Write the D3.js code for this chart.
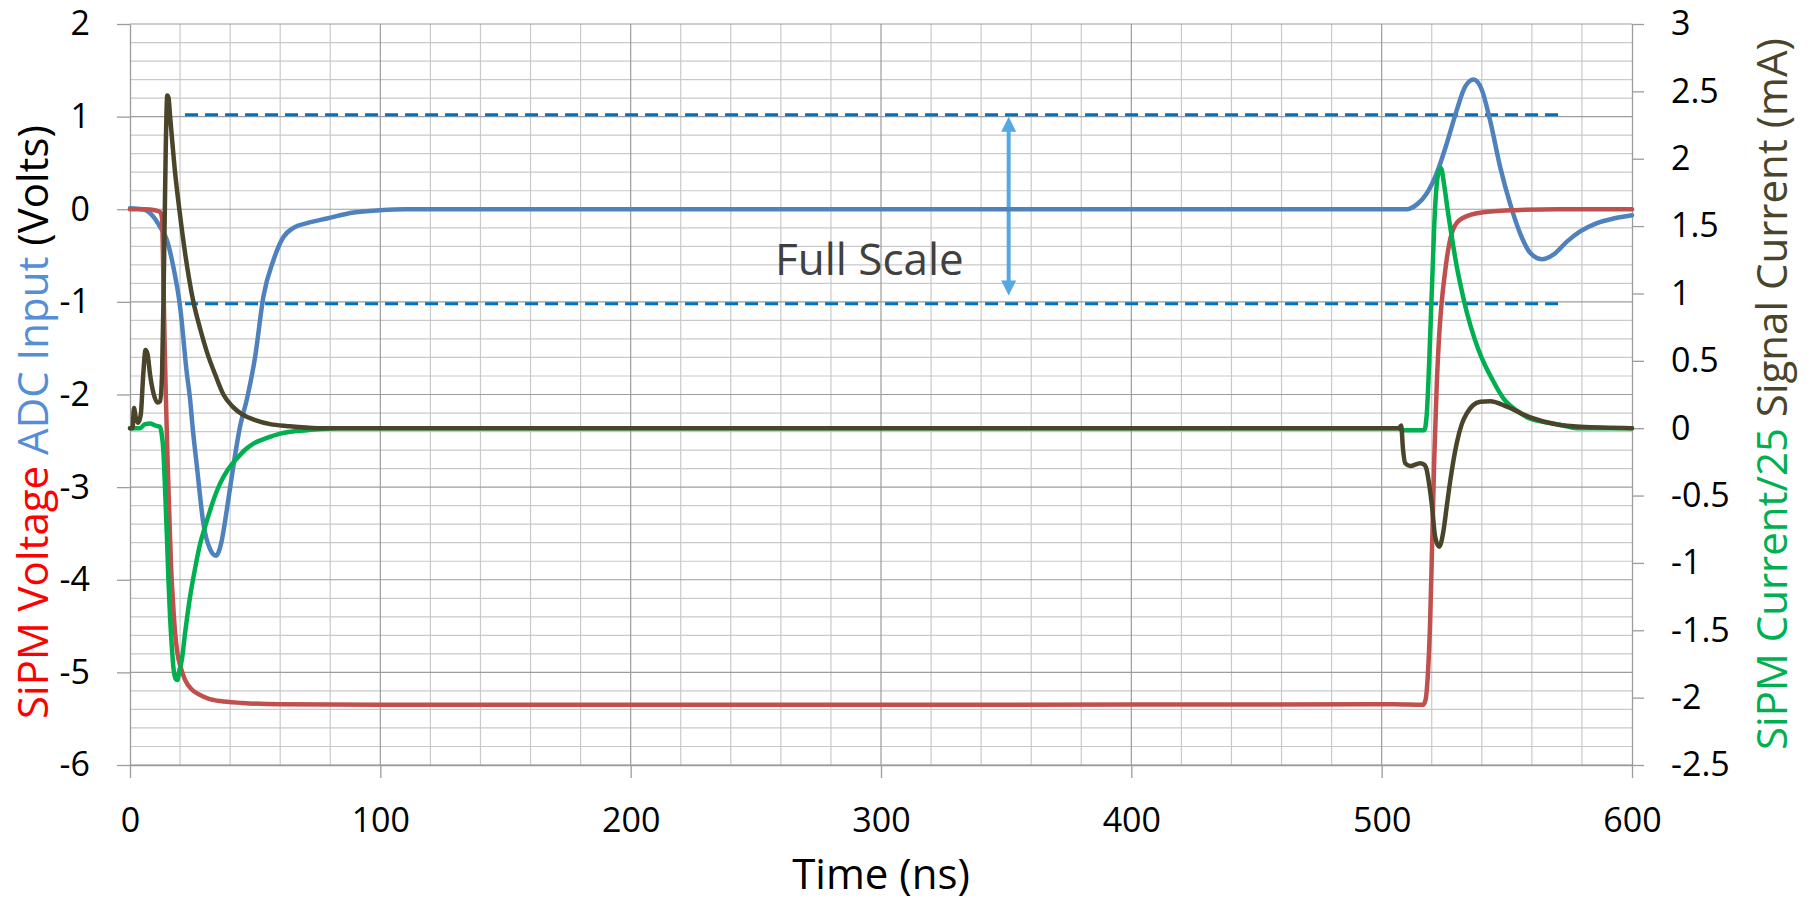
<!DOCTYPE html>
<meta charset="utf-8">
<head lang="en">
    <title>SiPM pulse</title>
    <script src="https://cdn.jsdelivr.net/npm/d3@7"></script>
    <style>
        body { margin: 0; background: #fff; }
        svg text { font-family: "Open Sans", sans-serif; }
        .grid-minor { stroke: #c9c9c9; stroke-width: 1.2; }
        .grid-major { stroke: #9c9c9c; stroke-width: 1.2; }
        .axis path, .axis line { stroke: #9c9c9c; stroke-width: 1.3; }
        .axis text { font-size: 34px; fill: #000; }
        .trace { fill: none; stroke-width: 4.5; stroke-linejoin: round; stroke-linecap: round; }
    </style>
</head>
<body>
<script>
    // tick labels
    var timeTicks = [0, 100, 200, 300, 400, 500, 600];
    var voltTicks = [2, 1, 0, -1, -2, -3, -4, -5, -6];
    var currentTicks = [3, 2.5, 2, 1.5, 1, 0.5, 0, -0.5, -1, -1.5, -2, -2.5];

    // SiPM voltage (V, left axis) : [time ns, value]
    var sipmVoltage = [[0,0],[6,0],[10,-0.01],[12,-0.03],[12.8,-0.1],[13.3,-0.7],[13.8,-1.4],[14.3,-2.0],
        [15,-2.7],[15.7,-3.3],[16.4,-3.85],[17.2,-4.25],[18,-4.57],[19,-4.8],[20.3,-4.95],[22,-5.08],
        [24.5,-5.18],[27,-5.23],[31,-5.28],[36,-5.31],[45,-5.33],[60,-5.345],[100,-5.35],[300,-5.35],
        [505,-5.345],[516.5,-5.35],[517.5,-5.3],[518.5,-5.0],[519.3,-4.5],[520,-3.8],[521,-2.7],
        [522,-1.9],[523,-1.35],[524,-1.0],[525,-0.75],[526.5,-0.45],[528.5,-0.22],[532,-0.1],
        [540,-0.035],[553,-0.01],[570,0],[600,0]];

    // ADC input (V, left axis)
    var adcInput = [[0,0.01],[5,0],[7,-0.02],[9.3,-0.08],[12,-0.19],[14.7,-0.33],[17.3,-0.62],[20,-1.05],
        [22.7,-1.77],[24,-2.05],[25,-2.35],[26.7,-2.77],[29.3,-3.39],[32,-3.67],[34.4,-3.74],[36.7,-3.57],
        [38.7,-3.24],[41.3,-2.77],[44,-2.34],[46.7,-2.05],[50,-1.59],[53.3,-0.94],[57.3,-0.55],
        [61.3,-0.3],[65.3,-0.2],[70.7,-0.15],[78.7,-0.1],[89.3,-0.035],[100,-0.01],[110,0],[500,0],
        [510,0],[514,0.05],[518,0.17],[522,0.39],[526,0.71],[530,1.07],[533.3,1.32],[536.7,1.40],
        [540,1.29],[543.3,0.96],[547.3,0.46],[551.3,0.06],[555.3,-0.26],[559.3,-0.47],[564,-0.54],
        [568.6,-0.49],[574,-0.35],[579.3,-0.24],[586,-0.15],[592.6,-0.1],[600,-0.065]];

    // SiPM current / 25 (mA, right axis)
    var sipmCurrent = [[0,0],[4,0],[6,0.03],[8,0.035],[10,0.02],[12,0.01],[12.7,-0.05],[13.3,-0.16],
        [14,-0.45],[14.7,-0.78],[15.3,-1.1],[16,-1.4],[16.7,-1.62],[17.3,-1.77],[18.2,-1.86],[18.9,-1.87],
        [19.7,-1.8],[20.7,-1.72],[22,-1.52],[24,-1.25],[26,-1.04],[28,-0.86],[30,-0.73],[32,-0.61],
        [34,-0.5],[36,-0.41],[39,-0.31],[42.7,-0.225],[46,-0.16],[49.3,-0.114],[55,-0.07],[60,-0.04],
        [70.7,-0.015],[82.7,0],[507,0],[508,-0.015],[517,-0.015],[518,0.1],[519,0.5],[520,1.0],
        [521.3,1.62],[522.5,1.88],[523.7,1.93],[525,1.8],[526.5,1.6],[528,1.42],[530,1.2],[532,1.02],
        [534,0.86],[537,0.67],[540,0.52],[543.4,0.39],[548.7,0.22],[554,0.13],[559.4,0.07],[570,0.03],
        [579,0],[600,0]];

    // signal current (mA, right axis)
    var signalCurrent = [[0,0],[1,0],[1.6,0.15],[2.3,0.08],[3.3,0.04],[4.3,0.1],[5.3,0.4],[6.2,0.58],
        [7,0.55],[8,0.4],[9.5,0.25],[11,0.19],[12,0.2],[12.8,0.4],[13.5,1.1],[14.3,2.1],[14.9,2.47],
        [15.4,2.45],[16,2.32],[18,1.9],[20,1.58],[22,1.3],[25.3,0.94],[28,0.74],[31,0.55],[34,0.4],
        [37.3,0.25],[41,0.16],[45,0.1],[50,0.06],[56,0.03],[63,0.015],[75,0],[507,0],[507.8,0.02],
        [508.5,-0.15],[509.4,-0.26],[511.4,-0.28],[515.4,-0.26],[517,-0.27],[518,-0.31],[519,-0.42],
        [520,-0.56],[521.4,-0.81],[523,-0.88],[524.7,-0.76],[526,-0.58],[527.4,-0.39],[530,-0.11],
        [532,0.03],[534,0.11],[536.5,0.17],[539.4,0.196],[543.4,0.2],[550,0.16],[559.4,0.08],
        [570,0.027],[579.4,0.01],[600,0]];

    // full scale markers (V) and the time span they cover
    var fullScaleLevels = [1.02, -1.02];
    var fullScaleSpan = [22, 571];
    var arrowTime = 351;
    var arrowRange = [1.0, -0.93];

    var width = 1811;
    var height = 903;
    var padding = {top: 24, right: 179, bottom: 138, left: 130};

    var svg = d3.select("body")
        .append("svg")
        .attr("width", width)
        .attr("height", height);

    var x = d3.scaleLinear().domain([0, 600]).range([padding.left, width - padding.right]);
    var yLeft = d3.scaleLinear().domain([-6, 2]).range([height - padding.bottom, padding.top]);
    var yRight = d3.scaleLinear().domain([-2.5, 3]).range([height - padding.bottom, padding.top]);

    //grid lines
    var gridT = d3.range(20, 600, 20);
    var gridV = d3.range(-30, 11).map(function (k) { return k / 5; });
    var grid = svg.append("g");
    grid.selectAll(".vminor")
        .data(gridT.filter(function (t) { return t % 100 !== 0; }))
        .enter().append("line")
        .attr("class", "grid-minor")
        .attr("x1", function (d) { return x(d); })
        .attr("x2", function (d) { return x(d); })
        .attr("y1", yLeft(2)).attr("y2", yLeft(-6));
    grid.selectAll(".hminor")
        .data(gridV.filter(function (v) { return Math.abs(v - Math.round(v)) > 1e-6; }))
        .enter().append("line")
        .attr("class", "grid-minor")
        .attr("x1", x(0)).attr("x2", x(600))
        .attr("y1", function (d) { return yLeft(d); })
        .attr("y2", function (d) { return yLeft(d); });
    grid.selectAll(".vmajor")
        .data(gridT.filter(function (t) { return t % 100 === 0; }))
        .enter().append("line")
        .attr("class", "grid-major")
        .attr("x1", function (d) { return x(d); })
        .attr("x2", function (d) { return x(d); })
        .attr("y1", yLeft(2)).attr("y2", yLeft(-6));
    grid.selectAll(".hmajor")
        .data(voltTicks)
        .enter().append("line")
        .attr("class", "grid-major")
        .attr("x1", x(0)).attr("x2", x(600))
        .attr("y1", function (d) { return yLeft(d); })
        .attr("y2", function (d) { return yLeft(d); });

    //axes
    var fmt = function (d) { return String(d); };
    svg.append("g")
        .attr("class", "axis")
        .attr("transform", "translate(" + x(0) + ",0)")
        .call(d3.axisLeft(yLeft).tickValues(voltTicks).tickFormat(fmt).tickSize(13).tickSizeOuter(0).tickPadding(27));
    svg.append("g")
        .attr("class", "axis")
        .attr("transform", "translate(" + x(600) + ",0)")
        .call(d3.axisRight(yRight).tickValues(currentTicks).tickFormat(fmt).tickSize(12).tickSizeOuter(0).tickPadding(27));
    svg.append("g")
        .attr("class", "axis")
        .attr("transform", "translate(0," + yLeft(-6) + ")")
        .call(d3.axisBottom(x).tickValues(timeTicks).tickFormat(fmt).tickSize(13).tickSizeOuter(0).tickPadding(30));

    //full scale dashed lines and arrow
    svg.selectAll(".fs")
        .data(fullScaleLevels)
        .enter().append("line")
        .attr("x1", x(fullScaleSpan[0])).attr("x2", x(fullScaleSpan[1]))
        .attr("y1", function (d) { return yLeft(d); })
        .attr("y2", function (d) { return yLeft(d); })
        .style("stroke", "#0070c0")
        .style("stroke-width", 3)
        .style("stroke-dasharray", "13,7");

    var ax = x(arrowTime), aTop = yLeft(arrowRange[0]), aBot = yLeft(arrowRange[1]);
    svg.append("line")
        .attr("x1", ax).attr("x2", ax)
        .attr("y1", aTop + 10).attr("y2", aBot - 10)
        .style("stroke", "#56a8e3")
        .style("stroke-width", 4);
    svg.append("path")
        .attr("d", "M" + ax + "," + aTop + "L" + (ax + 7.5) + "," + (aTop + 15) + "L" + (ax - 7.5) + "," + (aTop + 15) + "Z")
        .style("fill", "#56a8e3");
    svg.append("path")
        .attr("d", "M" + ax + "," + aBot + "L" + (ax + 7.5) + "," + (aBot - 15) + "L" + (ax - 7.5) + "," + (aBot - 15) + "Z")
        .style("fill", "#56a8e3");

    svg.append("text")
        .attr("x", 775)
        .attr("y", 275)
        .attr("font-size", "44px")
        .style("fill", "#404040")
        .text("Full Scale");

    //traces
    var lineLeft = d3.line()
        .x(function (d) { return x(d[0]); })
        .y(function (d) { return yLeft(d[1]); })
        .curve(d3.curveMonotoneX);
    var lineRight = d3.line()
        .x(function (d) { return x(d[0]); })
        .y(function (d) { return yRight(d[1]); })
        .curve(d3.curveMonotoneX);

    svg.append("path").attr("class", "trace").attr("d", lineLeft(adcInput)).style("stroke", "#4f81bd");
    svg.append("path").attr("class", "trace").attr("d", lineLeft(sipmVoltage)).style("stroke", "#c0504d");
    svg.append("path").attr("class", "trace").attr("d", lineRight(sipmCurrent)).style("stroke", "#00b050");
    svg.append("path").attr("class", "trace").attr("d", lineRight(signalCurrent)).style("stroke", "#4a452a");

    //axis titles
    svg.append("text")
        .attr("x", (x(0) + x(600)) / 2)
        .attr("y", 889)
        .attr("font-size", "42px")
        .attr("text-anchor", "middle")
        .text("Time (ns)");

    var leftTitle = svg.append("text")
        .attr("transform", "translate(48,422) rotate(-90)")
        .attr("font-size", "42px")
        .attr("text-anchor", "middle");
    leftTitle.append("tspan").style("fill", "#ff0000").text("SiPM Voltage ");
    leftTitle.append("tspan").style("fill", "#558ed5").text("ADC Input ");
    leftTitle.append("tspan").style("fill", "#000").text("(Volts)");

    var rightTitle = svg.append("text")
        .attr("transform", "translate(1787,394) rotate(-90)")
        .attr("font-size", "42px")
        .attr("text-anchor", "middle");
    rightTitle.append("tspan").style("fill", "#00b050").text("SiPM Current/25 ");
    rightTitle.append("tspan").style("fill", "#4a452a").text("Signal Current (mA)");
</script>
</body>
